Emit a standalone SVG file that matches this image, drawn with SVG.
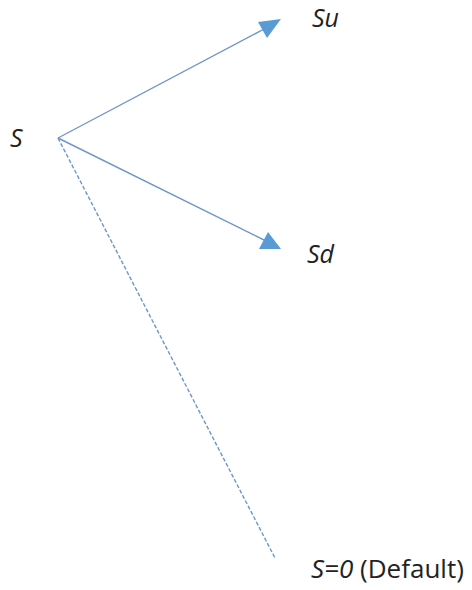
<svg xmlns="http://www.w3.org/2000/svg" width="472" height="590" viewBox="0 0 472 590">
<style>
.ln{stroke:#6f96c8;stroke-width:1.4;fill:none}
.ah{fill:#5b9bd5}
text{font-family:"Open Sans","Liberation Sans",sans-serif;font-size:25px;fill:#222}
.it{font-style:italic}
</style>
<rect width="472" height="590" fill="#fff"/>
<g id="connectors">
<line class="ln" x1="58" y1="138" x2="266" y2="28"/>
<polygon class="ah" points="281,19 258,22 267,38"/>
<line class="ln" x1="58" y1="138" x2="266" y2="241"/>
<polygon class="ah" points="281,249 259,249 268,232"/>
<line class="ln" x1="58" y1="138" x2="275" y2="558" stroke-dasharray="4,2" stroke-width="1"/>
</g>
<g id="node-S"><text class="it" x="10" y="147">S</text></g>
<g id="node-Su"><text class="it" x="312" y="27">Su</text></g>
<g id="node-Sd"><text class="it" x="307" y="263">Sd</text></g>
<g id="node-S0"><text x="311" y="578" style="font-size:26px"><tspan class="it">S=0</tspan> (Default)</text></g>
</svg>
